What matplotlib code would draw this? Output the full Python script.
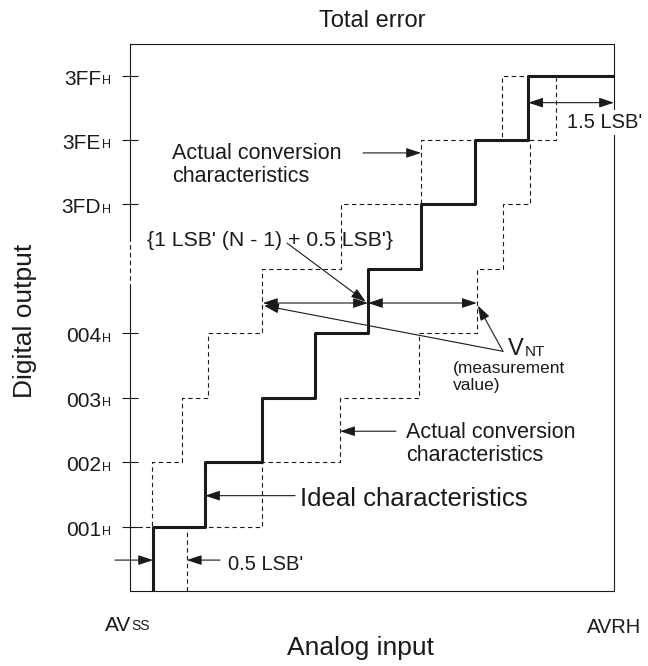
import matplotlib.pyplot as plt
import matplotlib.transforms as mtransforms

plt.rcParams['font.family'] = ['Liberation Sans', 'DejaVu Sans']

# digital output codes shown on the y axis (level index -> code)
code_levels = [1, 2, 3, 4, 6, 7, 8]
code_labels = ['001', '002', '003', '004', '3FD', '3FE', '3FF']

# ideal characteristics: analog input (in LSB') where each code starts
ideal_x = [0.43, 0.43, 1.40, 2.46, 3.45, 4.44, 5.43, 6.44, 7.43, 9.03]
ideal_y = [0, 1, 2, 3, 4, 5, 6, 7, 8, 8]

# actual conversion characteristics, upper and lower limits
upper_x = [0.0, 0.41, 0.97, 1.46, 2.46, 3.94, 5.43, 6.94, 7.43]
upper_y = [1, 2, 3, 4, 5, 6, 7, 8, 8]
lower_x = [1.06, 1.06, 2.46, 3.92, 5.39, 6.47, 6.96, 7.46, 7.95]
lower_y = [0, 1, 2, 3, 4, 5, 6, 7, 8]

ink = '#1a1a1a'

fig = plt.figure(figsize=(6.48, 6.66), dpi=100)
ax = fig.add_axes([0.2006, 0.1126, 0.7469, 0.8213])
ax.set_xlim(0, 9.03)
ax.set_ylim(0, 8.49)

dash = (0, (4, 3))
ax.step(upper_x, upper_y, where='post', color=ink, lw=0.8, ls=dash, zorder=2)
ax.step(lower_x, lower_y, where='post', color=ink, lw=0.8, ls=dash, zorder=2)
ax.step(ideal_x, ideal_y, where='post', color=ink, lw=2.2, zorder=3)

# frame, left side has a break between 004 and 3FD
for s in ['top', 'right', 'bottom']:
    ax.spines[s].set_linewidth(0.8)
    ax.spines[s].set_color(ink)
ax.spines['left'].set_visible(False)
ax.plot([0, 0], [0, 4.70], color=ink, lw=0.8, clip_on=False)
ax.plot([0, 0], [4.70, 5.45], color=ink, lw=0.8, ls=(0, (4, 3)), clip_on=False)
ax.plot([0, 0], [5.45, 8.49], color=ink, lw=0.8, clip_on=False)

ax.set_xticks([])
ax.set_yticks(code_levels)
ax.set_yticklabels([])
ax.tick_params(axis='y', direction='inout', length=11, width=0.8, color=ink)

trans = mtransforms.blended_transform_factory(ax.transAxes, ax.transData)


def small_suffix(artist, s, size, dy=1.2):
    ax.annotate(s, xy=(1, 0), xycoords=artist, xytext=(0.5, dy),
                textcoords='offset points', fontsize=size, color=ink,
                ha='left', va='bottom', annotation_clip=False)


for lvl, lab in zip(code_levels, code_labels):
    t = ax.text(-0.060, lvl - 0.14, lab, transform=trans, fontsize=15,
                color=ink, ha='right', va='baseline')
    small_suffix(t, 'H', 9)

# axis end labels
t = ax.text(-0.47, -0.62, 'AV', fontsize=15, color=ink, ha='left',
            va='baseline', clip_on=False)
small_suffix(t, 'SS', 10)
ax.text(8.53, -0.65, 'AVRH', fontsize=14.5, color=ink, ha='left',
        va='baseline', clip_on=False)

ax.set_title('Total error', fontsize=17, pad=12, color=ink)
ax.text(0.477, -0.117, 'Analog input', transform=ax.transAxes, fontsize=19,
        color=ink, ha='center', va='baseline')
ax.text(-0.217, 0.494, 'Digital output', transform=ax.transAxes, fontsize=19,
        color=ink, ha='center', va='center', rotation=90)

one = '-|>,head_length=0.45,head_width=0.15'
two = '<|-|>,head_length=0.45,head_width=0.15'


def arrow(start, end, style=one):
    ax.annotate('', xy=end, xytext=start, annotation_clip=False,
                arrowprops=dict(arrowstyle=style, lw=0.8, color=ink,
                                shrinkA=0, shrinkB=0, mutation_scale=20))


# 1.5 LSB' at the top
arrow((7.43, 7.58), (9.03, 7.58), two)
ax.text(8.15, 7.27, "1.5 LSB'", fontsize=14.5, color=ink, ha='left',
        va='center', zorder=5,
        bbox=dict(fc='white', ec='none', pad=2))

# upper actual conversion label (baseline given for the last line)
ax.text(0.78, 6.35, 'Actual conversion\ncharacteristics', fontsize=15.5,
        color=ink, ha='left', va='baseline', linespacing=1.1)
arrow((4.35, 6.80), (5.43, 6.80))

# total error span
ax.text(0.32, 5.36, "{1 LSB' (N - 1) + 0.5 LSB'}", fontsize=15.3,
        color=ink, ha='left', va='baseline')
arrow((2.93, 5.40), (4.40, 4.49))
arrow((2.48, 4.47), (4.44, 4.47), two)
arrow((4.44, 4.47), (6.47, 4.47), two)

# V_NT
arrow((6.96, 3.72), (2.50, 4.43))
arrow((6.96, 3.72), (6.49, 4.43))
t = ax.text(7.05, 3.66, 'V', fontsize=17, color=ink, ha='left',
            va='baseline')
small_suffix(t, 'NT', 11, dy=1.2)
ax.text(6.03, 3.12, '(measurement\nvalue)', fontsize=12.5, color=ink,
        ha='left', va='baseline', linespacing=1.15)

# lower actual conversion label
ax.text(5.15, 2.02, 'Actual conversion\ncharacteristics', fontsize=15.5,
        color=ink, ha='left', va='baseline', linespacing=1.1)
arrow((4.96, 2.48), (3.92, 2.48))

# ideal label
ax.text(3.17, 1.32, 'Ideal characteristics', fontsize=18.5, color=ink,
        ha='left', va='baseline')
arrow((3.08, 1.48), (1.40, 1.48))

# 0.5 LSB' at the bottom
arrow((-0.28, 0.48), (0.43, 0.48))
ax.text(1.83, 0.33, "0.5 LSB'", fontsize=14.5, color=ink, ha='left',
        va='baseline')
arrow((1.68, 0.48), (1.06, 0.48))

fig.savefig('out.png', dpi=100)
